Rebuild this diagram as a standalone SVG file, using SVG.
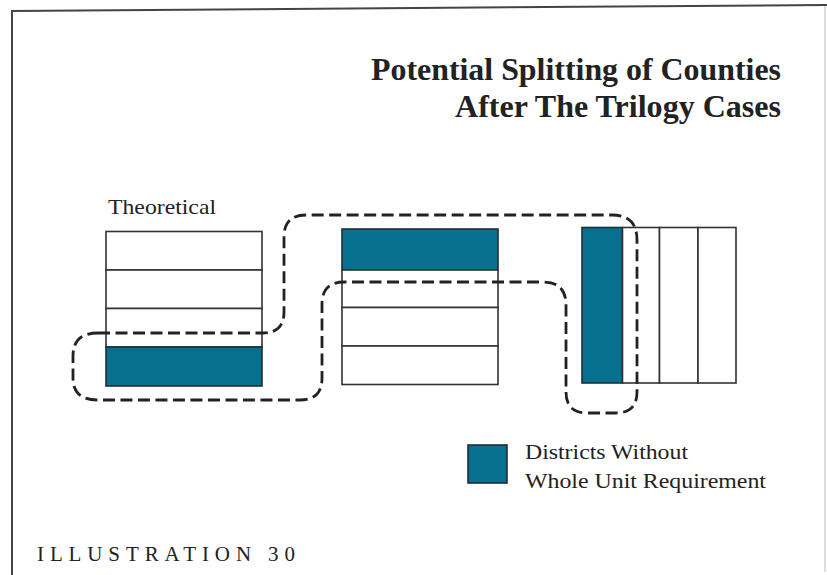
<svg xmlns="http://www.w3.org/2000/svg" width="827" height="575" viewBox="0 0 827 575">
<style>
.t{font-family:"Liberation Serif","Times New Roman",serif;fill:#222}
.title{font-weight:bold;font-size:31px;text-anchor:end}
.lbl{font-size:21px}
.cell{fill:#fff;stroke:#333;stroke-width:1.6}
.teal{fill:#07708e;stroke:#1f2f36;stroke-width:1.6}
.dash{fill:none;stroke:#222;stroke-width:2.8;stroke-dasharray:12 5.5}
</style>
<rect width="827" height="575" fill="#fff"/>
<g id="frame" fill="none" stroke="#444" stroke-width="2">
<line x1="11" y1="11" x2="827" y2="5"/>
<line x1="12" y1="10" x2="12" y2="575"/>
<line x1="825" y1="6" x2="825" y2="572" stroke="#ddd"/>
</g>
<g id="title">
<text class="t title" x="781" y="80" textLength="410" lengthAdjust="spacingAndGlyphs">Potential Splitting of Counties</text>
<text class="t title" x="781" y="117" textLength="326" lengthAdjust="spacingAndGlyphs">After The Trilogy Cases</text>
</g>
<g id="theoretical">
<text class="t lbl" x="108" y="214" textLength="108" lengthAdjust="spacingAndGlyphs">Theoretical</text>
<rect class="cell" x="106" y="231.5" width="156" height="38.5"/>
<rect class="cell" x="106" y="270" width="156" height="38.5"/>
<rect class="cell" x="106" y="308.5" width="156" height="38.5"/>
<rect class="teal" x="106" y="347" width="156" height="39"/>
</g>
<g id="county2">
<rect class="teal" x="342" y="229" width="156" height="41"/>
<rect class="cell" x="342" y="270" width="156" height="37.5"/>
<rect class="cell" x="342" y="307.5" width="156" height="38.5"/>
<rect class="cell" x="342" y="346" width="156" height="38.5"/>
</g>
<g id="county3">
<rect class="teal" x="582" y="227.5" width="40.5" height="155.5"/>
<rect class="cell" x="622.5" y="227.5" width="37" height="155.5"/>
<rect class="cell" x="659.5" y="227.5" width="38.5" height="155.5"/>
<rect class="cell" x="698" y="227.5" width="38" height="155.5"/>
</g>
<g id="connectors">
<path class="dash" d="M98,333 H263 Q284,333 284,312 V237 Q284,215 306,215 H612 Q637,215 637,240 V392 Q637,413 616,413 H587 Q566,413 566,392 V305 Q566,282 543,282 H344 Q322,282 322,304 V378 Q322,400 300,400 H98 Q73,400 73,378 V356 Q73,333 98,333 Z"/>
</g>
<g id="legend">
<rect class="teal" x="468" y="445" width="39" height="38" stroke-width="2"/>
<text class="t lbl" x="525" y="459" textLength="163" lengthAdjust="spacingAndGlyphs">Districts Without</text>
<text class="t lbl" x="525" y="488" textLength="241" lengthAdjust="spacingAndGlyphs">Whole Unit Requirement</text>
</g>
<g id="caption">
<text class="t" x="37" y="561" font-size="21" textLength="258" lengthAdjust="spacing">ILLUSTRATION 30</text>
</g>
</svg>
